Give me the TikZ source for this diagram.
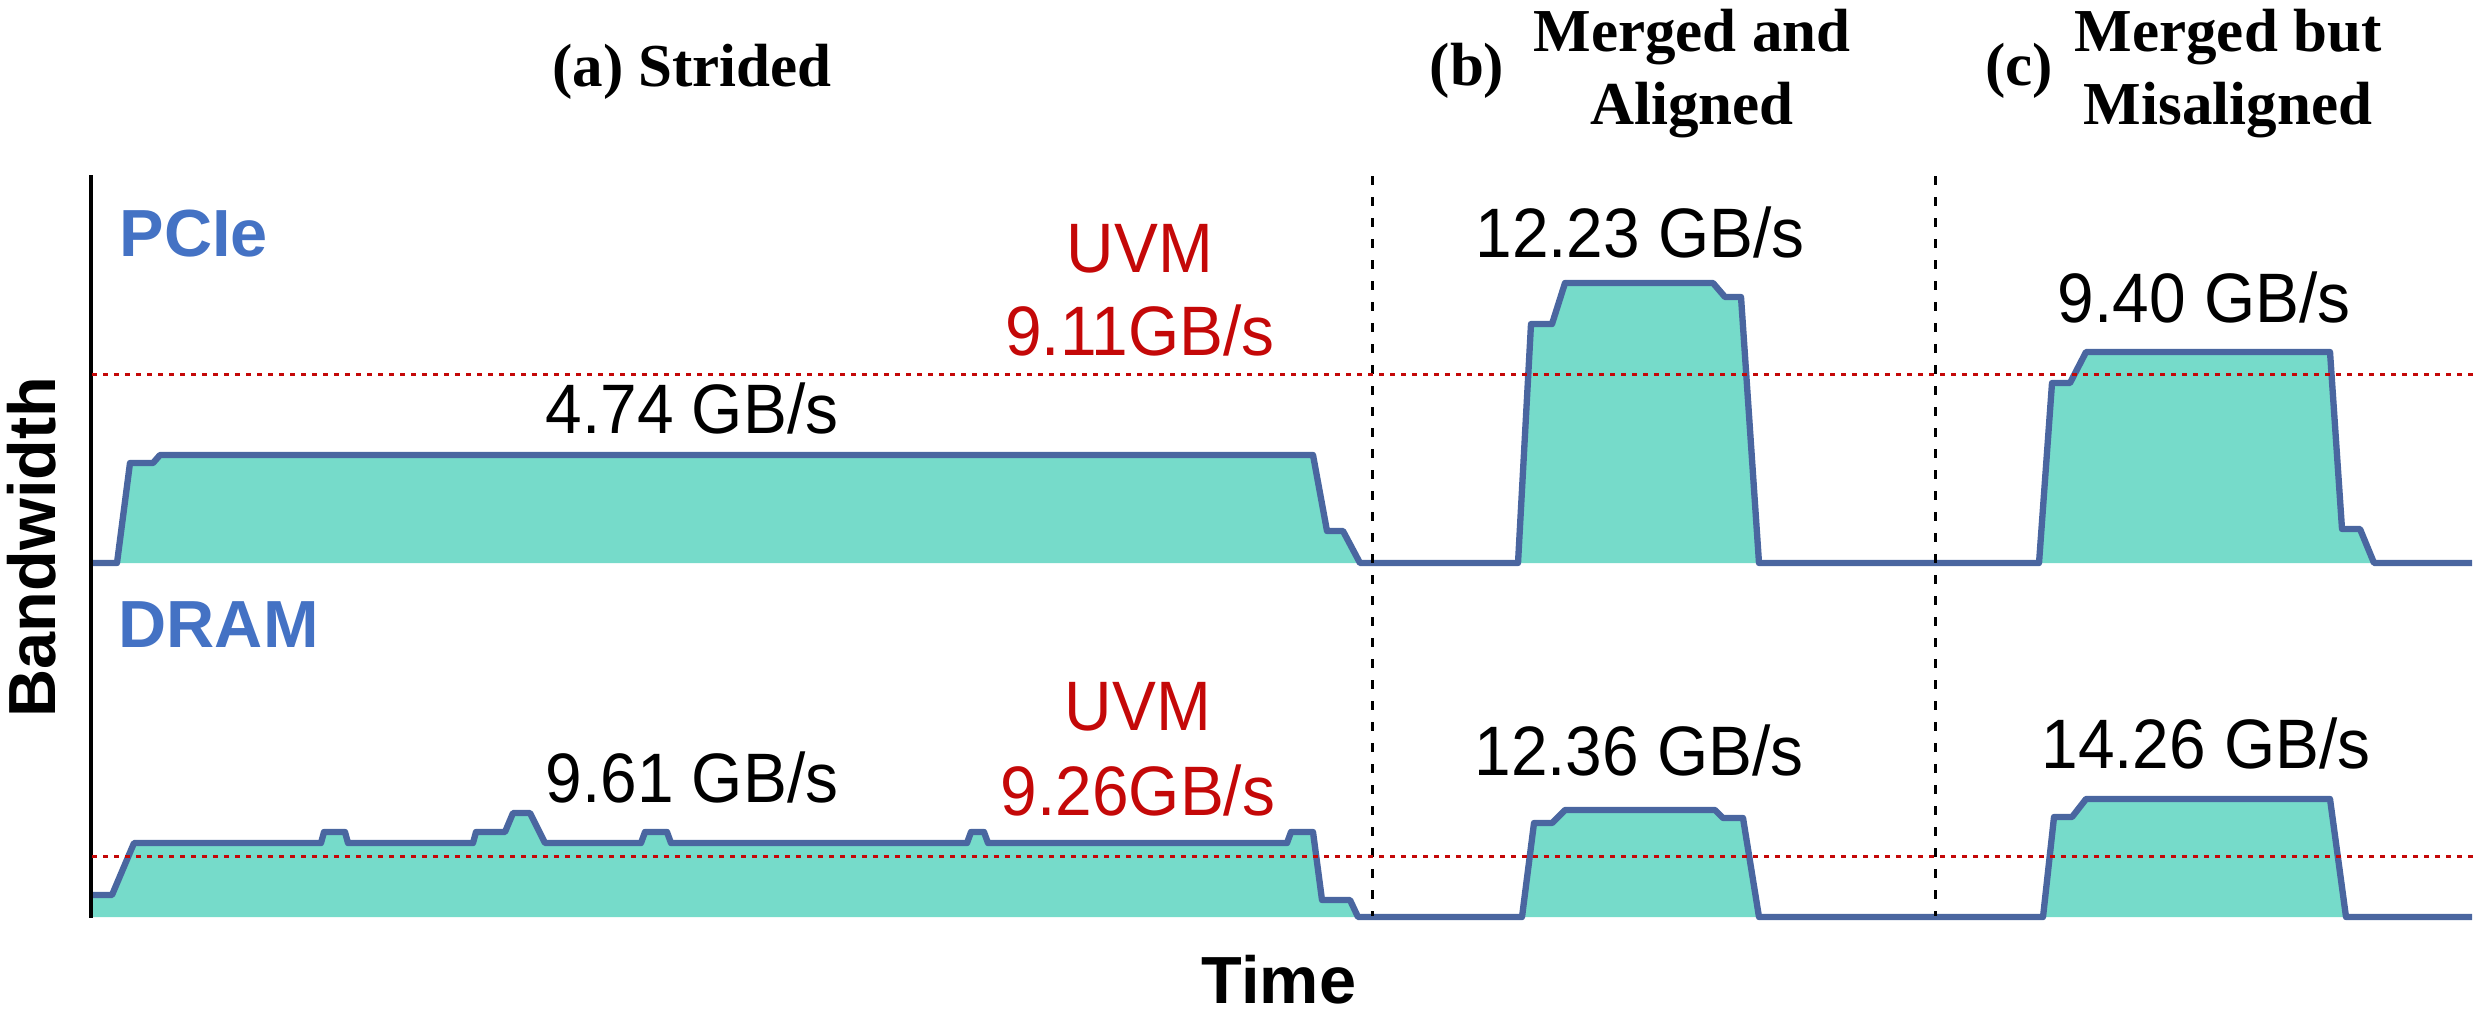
\documentclass[tikz,border=0pt]{standalone}
\usepackage{fontspec}
\setmainfont{Liberation Serif}
\newfontfamily\arialf{Liberation Sans}
\definecolor{fillc}{RGB}{118,219,202}
\definecolor{strokec}{RGB}{74,102,160}
\definecolor{redc}{RGB}{196,8,8}
\definecolor{bluec}{RGB}{68,114,196}
\newcommand{\nx}[1]{\scalebox{0.94}[1]{#1}}
\begin{document}
\begin{tikzpicture}[x=0.3pt,y=-0.3pt,
  num/.style={inner sep=0pt, font=\arialf\fontsize{21}{25}\selectfont},
  uvm/.style={num, text=redc},
  chan/.style={inner sep=0pt, font=\arialf\bfseries\fontsize{20}{24}\selectfont, text=bluec},
  axlbl/.style={inner sep=0pt, font=\arialf\bfseries\fontsize{20}{24}\selectfont},
  ttl/.style={inner sep=0pt, font=\bfseries\fontsize{18.3}{22}\selectfont},
  trace/.style={draw=strokec, line width=1.9pt, line join=round},
  sep/.style={draw=black, line width=0.9pt, dash pattern=on 2.7pt off 3.6pt},
  uvmline/.style={draw=redc, line width=0.9pt, dash pattern=on 1.5pt off 1.8pt}]
\useasboundingbox (0,0) rectangle (2486,1014);

\def\pcieline{(92,563) -- (117,563) -- (130,463) -- (153,463) -- (160,455) -- (1313,455) -- (1327,531) -- (1343,531) -- (1360,563) -- (1518,563) -- (1531,324) -- (1552,324) -- (1565,283) -- (1713,283) -- (1725,297) -- (1741,297) -- (1759,563) -- (2039,563) -- (2052,383) -- (2070,383) -- (2086,352) -- (2330,352) -- (2342,529) -- (2360,529) -- (2374,563) -- (2472,563)}
\def\dramline{(92,895) -- (112,895) -- (134,843) -- (321,843) -- (324,832) -- (345,832) -- (348,843) -- (473,843) -- (476,832) -- (505,832) -- (513,813) -- (530,813) -- (545,843) -- (641,843) -- (645,832) -- (667,832) -- (671,843) -- (967,843) -- (971,832) -- (984,832) -- (988,843) -- (1287,843) -- (1291,832) -- (1313,832) -- (1322,900) -- (1350,900) -- (1358,917) -- (1522,917) -- (1534,823) -- (1552,823) -- (1565,810) -- (1715,810) -- (1723,818) -- (1743,818) -- (1759,917) -- (2043,917) -- (2054,817) -- (2072,817) -- (2086,799) -- (2330,799) -- (2346,917) -- (2472,917)}

% fills
\fill[fillc] \pcieline -- cycle;
\fill[fillc] \dramline -- (2472,917) -- (92,917) -- cycle;
% traces
\draw[trace] \pcieline;
\draw[trace] \dramline;

% axis
\coordinate (axtop) at (91,175);
\coordinate (axbot) at (91,918);
\draw[line width=1.2pt] (axtop) -- (axbot);

% separators
\coordinate (s1t) at (1372,176);
\coordinate (s1b) at (1372,916);
\coordinate (s2t) at (1935,176);
\coordinate (s2b) at (1935,916);
\draw[sep] (s1t) -- (s1b);
\draw[sep] (s2t) -- (s2b);

% UVM reference lines
\coordinate (u1l) at (92,374);
\coordinate (u1r) at (2478,374);
\coordinate (u2l) at (92,856);
\coordinate (u2r) at (2478,856);
\draw[uvmline] (u1l) -- (u1r);
\draw[uvmline] (u2l) -- (u2r);

% titles
\node[ttl] (ta) at (692,72) {(a) Strided};
\node[ttl] (tb) at (1467,71) {(b)};
\node[ttl] (tb1) at (1692,37) {Merged and};
\node[ttl] (tb2) at (1692,110) {Aligned};
\node[ttl] (tc) at (2019,71) {(c)};
\node[ttl] (tc1) at (2228,37) {Merged but};
\node[ttl] (tc2) at (2228,110) {Misaligned};

% axis labels
\node[axlbl, rotate=90] (bw) at (32,547) {Bandwidth};
\node[axlbl] (time) at (1279,980) {Time};

% channel labels
\node[chan, anchor=west] (pcie) at (119,234) {PCIe};
\node[chan, anchor=west] (dram) at (118,625) {DRAM};

% values PCIe
\node[num] (v1) at (692,408) {\nx{4.74 GB/s}};
\node[uvm] (uvma) at (1140,249) {\nx{UVM}};
\node[uvm] (uvmav) at (1140,330) {\nx{9.11GB/s}};
\node[num] (v2) at (1640,232) {\nx{12.23 GB/s}};
\node[num] (v3) at (2204,297) {\nx{9.40 GB/s}};

% values DRAM
\node[num] (v4) at (692,777) {\nx{9.61 GB/s}};
\node[uvm] (uvmb) at (1138,707) {\nx{UVM}};
\node[uvm] (uvmbv) at (1138,790) {\nx{9.26GB/s}};
\node[num] (v5) at (1639,750) {\nx{12.36 GB/s}};
\node[num] (v6) at (2206,743) {\nx{14.26 GB/s}};
\end{tikzpicture}
\end{document}
